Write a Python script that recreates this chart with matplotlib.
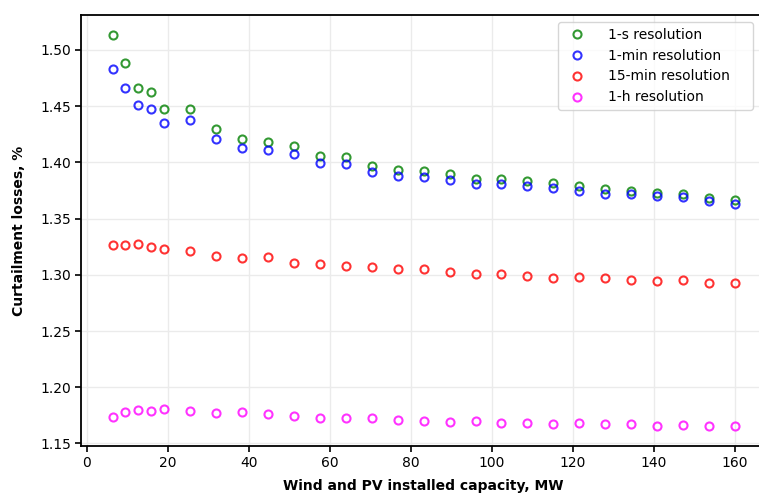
import matplotlib
matplotlib.use("Agg")
import matplotlib.pyplot as plt

capacity = [6.4, 9.6, 12.8, 16.0, 19.2, 25.6, 32.0, 38.4, 44.8, 51.2, 57.6, 64.0, 70.4,
            76.8, 83.2, 89.6, 96.0, 102.4, 108.8, 115.2, 121.6, 128.0, 134.4, 140.8,
            147.2, 153.6, 160.0]

res_1s = [1.5137, 1.4882, 1.4662, 1.4624, 1.4472, 1.4475, 1.4297, 1.4212, 1.4179, 1.4143,
          1.4054, 1.4045, 1.3971, 1.3933, 1.3927, 1.3897, 1.3856, 1.3856, 1.3838, 1.3817,
          1.3793, 1.3761, 1.3749, 1.3731, 1.3722, 1.3683, 1.3663]

res_1min = [1.4828, 1.4659, 1.4508, 1.4479, 1.4348, 1.4381, 1.4206, 1.4132, 1.4108, 1.4072,
            1.3995, 1.3983, 1.3915, 1.3879, 1.3874, 1.3847, 1.3811, 1.3808, 1.3793, 1.3770,
            1.3749, 1.3722, 1.3716, 1.3698, 1.3696, 1.3654, 1.3634]

res_15min = [1.3269, 1.3262, 1.3278, 1.3247, 1.3230, 1.3209, 1.3167, 1.3147, 1.3156, 1.3105,
             1.3096, 1.3082, 1.3067, 1.3052, 1.3049, 1.3029, 1.3007, 1.3007, 1.2987, 1.2975,
             1.2978, 1.2975, 1.2957, 1.2945, 1.2954, 1.2931, 1.2925]

res_1h = [1.1735, 1.1783, 1.1801, 1.1788, 1.1803, 1.1788, 1.1771, 1.1779, 1.1759, 1.1744,
          1.1726, 1.1723, 1.1723, 1.1708, 1.1703, 1.1688, 1.1697, 1.1685, 1.1679, 1.1673,
          1.1682, 1.1673, 1.1676, 1.1658, 1.1661, 1.1655, 1.1652]

series = [
    ("1-s resolution", res_1s, "#008000"),
    ("1-min resolution", res_1min, "#0000ff"),
    ("15-min resolution", res_15min, "#ff0000"),
    ("1-h resolution", res_1h, "#ff00ff"),
]

W, H = 759, 495
fig = plt.figure(figsize=(W / 100, H / 100), dpi=100)
left, right, top, bottom = 81.4, 766.0, 15.0, 446.0
ax = fig.add_axes([left / W, (H - bottom) / H, (right - left) / W, (bottom - top) / H])

for label, vals, col in series:
    ax.plot(capacity, vals, linestyle="none", marker="o", markersize=5.8,
            markerfacecolor="none", markeredgecolor=col, markeredgewidth=1.5,
            alpha=0.8, label=label)

ax.grid(True, color="#ebebeb", linewidth=1.0)
ax.set_axisbelow(True)
for s in ax.spines.values():
    s.set_linewidth(1.3)
    s.set_color("black")

ax.set_yticks([1.15, 1.20, 1.25, 1.30, 1.35, 1.40, 1.45, 1.50])
ax.set_xticks([0, 20, 40, 60, 80, 100, 120, 140, 160])
ax.tick_params(axis="both", labelsize=10, length=4, width=1.2, direction="out")

ax.set_xlabel("Wind and PV installed capacity, MW", fontsize=10, fontweight="bold", labelpad=6)
ax.set_ylabel("Curtailment losses, %", fontsize=10, fontweight="bold", labelpad=10)

aw, ah = right - left, bottom - top
lx0, lx1, ly_bot, ly_top = 558.0, 753.0, 110.0, 22.0
ax.legend(loc="upper left",
          bbox_to_anchor=((lx0 - left) / aw, (bottom - ly_bot) / ah,
                          (lx1 - lx0) / aw, (ly_bot - ly_top) / ah),
          mode="expand", borderaxespad=0, fontsize=10, frameon=True, fancybox=True,
          edgecolor="#cccccc", handletextpad=1.2)

fig.savefig("out.png", dpi=100)
